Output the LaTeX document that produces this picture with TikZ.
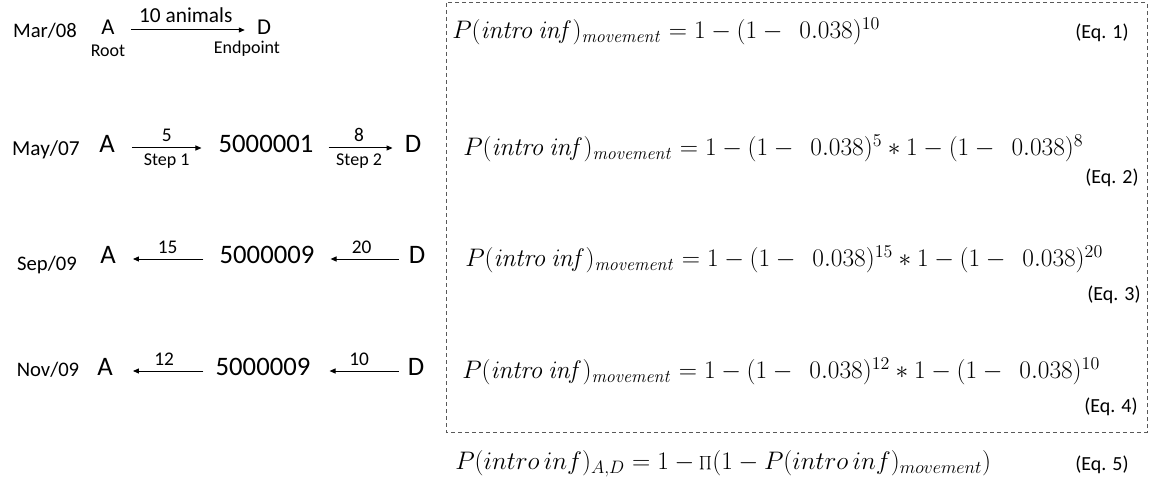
\RequirePackage{fix-cm}
\documentclass[tikz,border=0pt]{standalone}
\usepackage[no-math]{fontspec}
\setmainfont{Carlito}
\usetikzlibrary{arrows.meta}
\DeclareMathSizes{19}{19}{13.5}{10}
\tikzset{
  lbl/.style={inner sep=0pt, font=\fontsize{#1}{#1}\selectfont},
  big/.style={inner sep=0pt, font=\fontsize{20}{20}\selectfont, text height=1.3ex, text depth=0pt},
  arr/.style={-{Triangle[length=4.5pt,width=3.8pt]}, line width=0.75pt},
  eqn/.style={inner sep=0pt, anchor=west, font=\fontsize{19}{21}\selectfont},
  eqlbl/.style={inner sep=0pt, font=\fontsize{15}{16}\selectfont},
}
\newcommand{\Pm}{P(\mathit{intro}\,\mathit{inf})_{\mathit{movement}}}
\newcommand{\tm}[1]{(1-\;\,0.038)^{#1}}
\begin{document}
\begin{tikzpicture}[x=0.75pt,y=-0.75pt]
\useasboundingbox (0,0) rectangle (1149,481);
% Row 1
\node[lbl=15.5] (d1) at (45,31) {Mar/08};
\node[lbl=17, text height=1.3ex, text depth=0pt] (a1) at (108,30) {A};
\node[lbl=17, text height=1.3ex, text depth=0pt] (e1) at (264,30) {D};
\node[lbl=13.5] (r1) at (108,51) {Root};
\node[lbl=13.5] (p1) at (247,49) {Endpoint};
\draw[arr, shorten <=12pt, shorten >=9pt] (a1) -- node[lbl=16, above=5pt] (l1) {10 animals} (e1);
% Row 2
\node[lbl=16] (d2) at (46,150) {May/07};
\node[big] (a2) at (107,148) {A};
\node[big] (m2) at (266,148) {5000001};
\node[big] (e2) at (413,148) {D};
\draw[arr, shorten <=12.75pt, shorten >=12.75pt] (a2) -- node[lbl=14.5, above=4.5pt] (l2a) {5} node[lbl=13.5, below=3.75pt] (s2a) {Step 1} (m2);
\draw[arr, shorten <=11.25pt, shorten >=9pt] (m2) -- node[lbl=14.5, above=4.5pt] (l2b) {8} node[lbl=13.5, below=3.75pt] (s2b) {Step 2} (e2);
% Row 3
\node[lbl=15.5] (d3) at (47,265) {Sep/09};
\node[big] (a3) at (108,259) {A};
\node[big] (m3) at (267,259) {5000009};
\node[big] (e3) at (417,259) {D};
\draw[arr, shorten <=12pt, shorten >=12.75pt] (m3) -- node[lbl=14.5, above=3.5pt] (l3a) {15} (a3);
\draw[arr, shorten <=7.5pt, shorten >=12pt] (e3) -- node[lbl=14.5, above=3.5pt] (l3b) {20} (m3);
% Row 4
\node[lbl=15.5] (d4) at (48,370) {Nov/09};
\node[big] (a4) at (105,371) {A};
\node[big] (m4) at (263,371) {5000009};
\node[big] (e4) at (416,371) {D};
\draw[arr, shorten <=9pt, shorten >=15pt] (m4) -- node[lbl=14.5, above=4pt] (l4a) {12} (a4);
\draw[arr, shorten <=6.75pt, shorten >=14.25pt] (e4) -- node[lbl=14.5, above=4pt] (l4b) {10} (m4);
% Box
\draw[dash pattern=on 3pt off 2.25pt, line width=0.75pt, black!65] (446,3) rectangle (1147,432);
% Equations
\node[eqn] (q1) at (452,31) {$\Pm = 1-\tm{10}$};
\node[eqn] (q2) at (463,148) {$\Pm = 1-\tm{5} * 1-\tm{8}$};
\node[eqn] (q3) at (465,259) {$\Pm = 1-\tm{15} * 1-\tm{20}$};
\node[eqn] (q4) at (462,371) {$\Pm = 1-\tm{12} * 1-\tm{10}$};
\node[eqn] (q5) at (455,464) {$P(intro\,inf)_{A,D} = 1-\textstyle\prod(1-P(intro\,inf)_{movement})$};
\node[eqlbl] (k1) at (1102,33) {(Eq. 1)};
\node[eqlbl] (k2) at (1112,178) {(Eq. 2)};
\node[eqlbl] (k3) at (1114,295) {(Eq. 3)};
\node[eqlbl] (k4) at (1111,407) {(Eq. 4)};
\node[eqlbl] (k5) at (1102,465) {(Eq. 5)};
\end{tikzpicture}
\end{document}
